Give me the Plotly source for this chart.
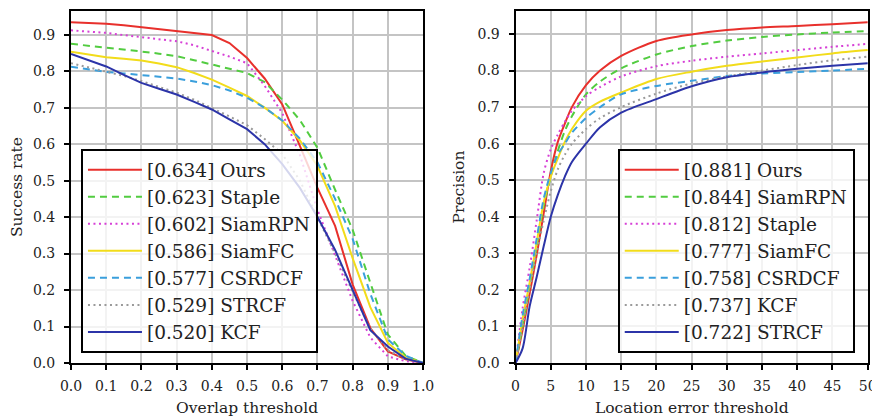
import plotly.graph_objects as go

# ---------------- data: success plot (overlap threshold) ----------------
overlap_x = [0.0, 0.05, 0.1, 0.15, 0.2, 0.25, 0.3, 0.35, 0.4, 0.45, 0.5,
             0.55, 0.6, 0.65, 0.7, 0.75, 0.8, 0.85, 0.9, 0.95, 1.0]
succ_names = ["[0.634] Ours", "[0.623] Staple", "[0.602] SiamRPN", "[0.586] SiamFC",
              "[0.577] CSRDCF", "[0.529] STRCF", "[0.520] KCF"]
succ_ours = [0.934, 0.933, 0.930, 0.926, 0.921, 0.916, 0.911, 0.906, 0.899, 0.877, 0.836,
             0.78, 0.709, 0.595, 0.48, 0.376, 0.215, 0.096, 0.032, 0.01, 0.0]
succ_staple = [0.875, 0.870, 0.866, 0.860, 0.854, 0.848, 0.841, 0.830, 0.818, 0.807, 0.795,
               0.77, 0.722, 0.666, 0.59, 0.475, 0.365, 0.22, 0.078, 0.02, 0.0]
succ_siamrpn = [0.912, 0.909, 0.905, 0.899, 0.893, 0.888, 0.882, 0.871, 0.856, 0.84, 0.822,
                0.76, 0.685, 0.57, 0.42, 0.295, 0.17, 0.07, 0.018, 0.005, 0.0]
succ_siamfc = [0.853, 0.845, 0.838, 0.834, 0.829, 0.821, 0.811, 0.795, 0.777, 0.755, 0.732,
               0.70, 0.664, 0.61, 0.54, 0.43, 0.287, 0.153, 0.055, 0.015, 0.0]
succ_csrdcf = [0.812, 0.805, 0.798, 0.794, 0.789, 0.785, 0.78, 0.772, 0.762, 0.747, 0.727,
               0.70, 0.665, 0.615, 0.55, 0.45, 0.34, 0.19, 0.065, 0.02, 0.0]
succ_strcf = [0.822, 0.81, 0.80, 0.787, 0.773, 0.757, 0.741, 0.722, 0.70, 0.676, 0.652,
              0.614, 0.573, 0.50, 0.40, 0.30, 0.195, 0.095, 0.035, 0.01, 0.0]
succ_kcf = [0.847, 0.83, 0.813, 0.79, 0.768, 0.752, 0.736, 0.716, 0.695, 0.668, 0.641,
            0.60, 0.545, 0.48, 0.40, 0.31, 0.20, 0.09, 0.045, 0.012, 0.0]

# ---------------- data: precision plot (location error threshold) ----------------
loc_x = [0, 1, 2, 3, 4, 5, 6, 7, 8, 10, 12, 15, 20, 25, 30, 35, 40, 45, 50]
prec_names = ["[0.881] Ours", "[0.844] SiamRPN", "[0.812] Staple", "[0.777] SiamFC",
              "[0.758] CSRDCF", "[0.737] KCF", "[0.722] STRCF"]
prec_ours = [0, 0.09, 0.19, 0.295, 0.41, 0.525, 0.605, 0.655, 0.70, 0.76, 0.80, 0.84,
             0.881, 0.899, 0.911, 0.918, 0.922, 0.927, 0.932]
prec_siamrpn = [0, 0.10, 0.21, 0.32, 0.43, 0.51, 0.58, 0.635, 0.675, 0.735, 0.77, 0.806,
                0.844, 0.867, 0.882, 0.892, 0.899, 0.904, 0.908]
prec_staple = [0, 0.15, 0.26, 0.39, 0.52, 0.585, 0.625, 0.66, 0.69, 0.73, 0.755, 0.784,
               0.812, 0.827, 0.838, 0.847, 0.856, 0.865, 0.873]
prec_siamfc = [0, 0.12, 0.22, 0.33, 0.44, 0.51, 0.56, 0.605, 0.64, 0.69, 0.715, 0.74,
               0.777, 0.797, 0.813, 0.825, 0.836, 0.847, 0.856]
prec_csrdcf = [0, 0.13, 0.23, 0.34, 0.45, 0.52, 0.57, 0.60, 0.63, 0.67, 0.70, 0.735,
               0.758, 0.772, 0.785, 0.792, 0.796, 0.80, 0.805]
prec_kcf = [0, 0.10, 0.20, 0.30, 0.39, 0.47, 0.53, 0.57, 0.60, 0.64, 0.67, 0.70,
            0.737, 0.765, 0.784, 0.80, 0.815, 0.828, 0.838]
prec_strcf = [0, 0.04, 0.155, 0.235, 0.32, 0.40, 0.46, 0.51, 0.55, 0.60, 0.645, 0.685,
              0.722, 0.757, 0.782, 0.795, 0.805, 0.813, 0.82]

succ_series = [succ_ours, succ_staple, succ_siamrpn, succ_siamfc, succ_csrdcf, succ_strcf, succ_kcf]
prec_series = [prec_ours, prec_siamrpn, prec_staple, prec_siamfc, prec_csrdcf, prec_kcf, prec_strcf]

# styles by rank
colors = ["#e8302c", "#52cc40", "#d63fd6", "#f2dc1a", "#3a9fdc", "#9a9a9a", "#2c34a8"]
dashes = ["solid", "7px,5px", "2px,3.5px", "solid", "7px,5px", "2px,3.5px", "solid"]

SERIF = "DejaVu Serif"
TXT = "#222222"

fig = go.Figure()
for name, ys, c, d in zip(succ_names, succ_series, colors, dashes):
    fig.add_trace(go.Scatter(x=overlap_x, y=ys, mode="lines", name=name,
                             line=dict(color=c, width=2, dash=d),
                             xaxis="x", yaxis="y", legend="legend"))
for name, ys, c, d in zip(prec_names, prec_series, colors, dashes):
    fig.add_trace(go.Scatter(x=loc_x, y=ys, mode="lines", name=name,
                             line=dict(color=c, width=2, dash=d, shape="spline", smoothing=0.8),
                             xaxis="x2", yaxis="y2", legend="legend2"))

axis_common = dict(showgrid=True, gridcolor="#c4c4c4", gridwidth=1.6,
                   showline=True, linecolor="black", linewidth=2, mirror=True,
                   ticks="outside", ticklen=5, tickwidth=1.5, tickcolor="black",
                   zeroline=False, tickfont=dict(family=SERIF, size=14, color=TXT))
title_font = dict(family=SERIF, size=15.5, color=TXT)

legend_common = dict(xanchor="left", yanchor="bottom", bordercolor="black", borderwidth=2,
                     bgcolor="rgba(255,255,255,0.8)", itemwidth=54,
                     font=dict(family=SERIF, size=18.5, color=TXT))

# page body has an 8px margin: the figure is sized/margined to compensate
fig.update_layout(
    width=872, height=409,
    margin=dict(l=63, r=10, t=1, b=54),
    paper_bgcolor="white", plot_bgcolor="white",
    xaxis=dict(domain=[0, 0.4418], range=[0, 1], dtick=0.1, tickformat=".1f",
               ticklabelstandoff=4,
               title=dict(text="Overlap threshold", font=title_font, standoff=9), anchor="y",
               **axis_common),
    yaxis=dict(range=[0, 0.965], dtick=0.1, tickformat=".1f", ticklabelstandoff=6,
               title=dict(text="Success rate", font=title_font, standoff=9), anchor="x",
               **axis_common),
    xaxis2=dict(domain=[0.5578, 1], range=[0, 50.05], dtick=5, ticklabelstandoff=4,
                title=dict(text="Location error threshold", font=title_font, standoff=9),
                anchor="y2", **axis_common),
    yaxis2=dict(range=[0, 0.963], dtick=0.1, tickformat=".1f", ticklabelstandoff=6,
                title=dict(text="Precision", font=title_font, standoff=9), anchor="x2",
                **axis_common),
    legend=dict(x=0.0125, y=0.028, **legend_common),
    legend2=dict(x=0.686, y=0.028, **legend_common),
)

fig.write_html("out.html")
